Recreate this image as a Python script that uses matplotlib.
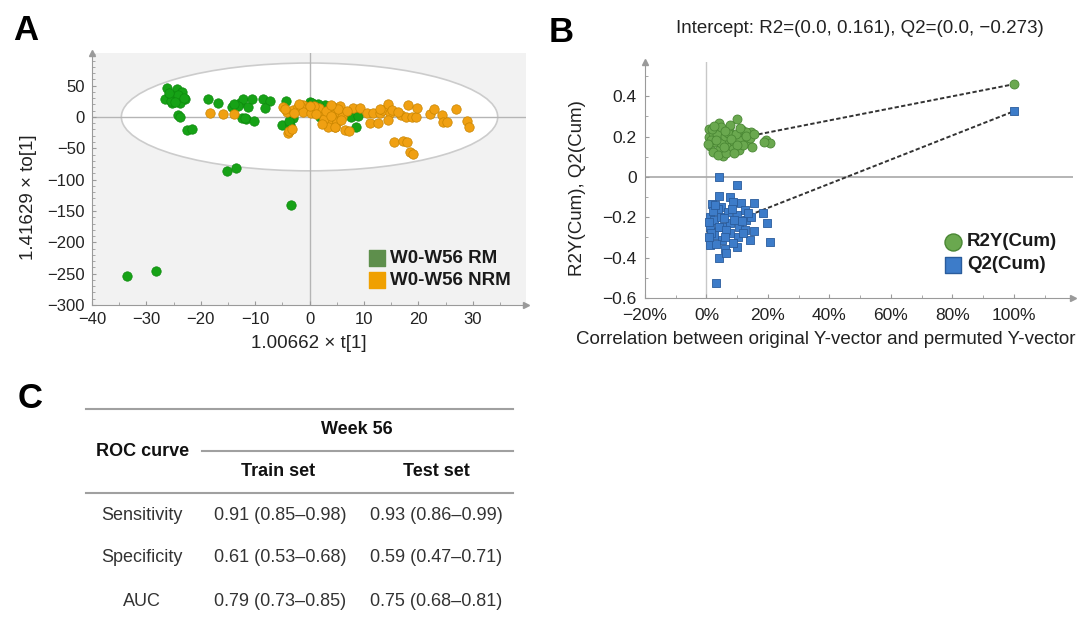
import matplotlib
matplotlib.use("Agg")
import matplotlib.pyplot as plt
from matplotlib.patches import Ellipse
from matplotlib.ticker import MultipleLocator, FuncFormatter, FixedLocator
import numpy as np

plt.rcParams['font.family'] = ['Liberation Sans', 'DejaVu Sans']
plt.rcParams['axes.unicode_minus'] = True

# ---------------- Panel A data (OPLS-DA score plot) ----------------
rm_x = [-26.2, -26.6, -24.3, -23.5, -25.1, -24.2, -22.9, -25.2, -23.8, -24.2, -23.8,
        -22.6, -21.7, -18.6, -16.8, -14.3, -12.8, -12.2, -11.3, -10.6, -12.5, -11.6,
        -10.2, -8.5, -7.2, -8.1, -5.0, -3.6, -3.0, 0.0, 0.4, 2.5, 2.8, 1.9, 3.6, 3.8,
        6.5, 7.7, 8.9, 8.5, -13.2, -11.8, -25.5, -24.8, -3.8, 4.6, 5.0, 1.5,
        -23.0, -25.8, -13.8, -4.4,
        -15.1, -13.6, -3.4, -33.6, -28.3]
rm_y = [45.7, 28, 44, 40, 33.5, 35, 28, 21.8, 21.8, 3.2, -0.5,
        -20.7, -19.6, 28, 22.9, 16.4, 21.8, 28, 16.4, 28, -2, -3.7,
        -5.9, 28, 26, 14.8, -12.8, -12.8, -2, 24.4, 22.8, 16.4, 19, 0.5, 12, -4,
        5.9, 0.5, 1.6, -15.5, 18, -1, 26, 24, -6, -2, 10, 20,
        31, 38, 20, 25,
        -87, -81, -140, -253, -245]

nrm_x = [-18.3, -15.9, -13.9, -4.9, -4.2, -3.9, -3.0, -2.2, -1.2, -0.6, 0.4,
         -1.5, -1.2, 0.7, 1.0, 3.4, 4.7, 4.3, 3.7, 5.6, 3.1, 4.3, 5.6, 5.0, 3.4,
         4.7, 6.5, 7.3, 8.0, 9.2, 10.5, 11.7, 12.9, 11.1, 12.6, 13.5, 14.4, 14.8,
         14.4, 15.1, 16.9, 17.8, 18.8, 19.5, 18.1, 19.7, 15.5, 17.2, 17.9, 18.4,
         19.0, 22.1, 22.8, 24.3, 24.6, 25.2, 27.0, 29.0, 29.3, -3.7, 2.0, 6.0,
         -2.8, 1.8, 5.2, 0.2, 2.6, -4.6, -2.0, 0.9, 3.0, 4.0, 5.8, 2.2, 1.2,
         6.8, 3.9, 13.0, 16.2, -3.3, 0.0]
nrm_y = [5.9, 4.3, 4.3, 16.4, 8.5, -25, 11.2, 16.4, 19, 11.2, 13.9,
         16.4, 8.5, 16.4, 11.2, -10, -15.5, 16.4, 11.2, 17.5, 3.2, 3.2, 5.9, -7.4, -15.5,
         -15.5, -20.7, -21.8, 13.9, 13.9, 5.9, 5.9, 5.9, -9.1, -9.1, 11.2, 20.2, 5.9,
         -4.8, 11.2, 3.2, 0.5, 0.5, 0.5, 19, 13.9, -39.4, -38.3, -39.4, -55.3,
         -59.5, 4.8, 12.3, 3.2, -7.4, -7.4, 12.3, -6.4, -15.5, -22, 8, 0,
         6, 14, 12, 7, -3, 12, 20, 18, 9, 19, -5, -12, 4,
         10, 1, 13, 8, -20, 18]

ellipse_semi_x = 34.6
ellipse_semi_y = 86.0

# ---------------- Panel B data (permutation test) ----------------
r2y_x = [0.76, 0.76, 1.2, 2.06, 2.9, 4.0, 4.0, 5.1, 5.3, 6.4, 7.3, 7.5, 8.4, 9.9,
         9.1, 10.5, 11.6, 12.4, 13.4, 14.5, 14.9, 19.2, 20.5, 3.4, 4.8, 5.9, 8.6,
         10.7, 12.9, 2.06, 3.7, 6.4, 11.8, 14.0, 1.5, 6.9, 9.7, 4.8, 7.5,
         0.5, 1.8, 3.0, 5.6, 8.0, 10.0, 13.0, 15.5, 2.5, 6.0, 9.0, 11.0, 18.6,
         100.0]
r2y_y = [0.236, 0.197, 0.154, 0.217, 0.175, 0.266, 0.134, 0.233, 0.104, 0.183,
         0.241, 0.147, 0.208, 0.286, 0.175, 0.134, 0.233, 0.200, 0.167, 0.225,
         0.147, 0.183, 0.167, 0.213, 0.167, 0.203, 0.137, 0.183, 0.225, 0.126,
         0.109, 0.120, 0.159, 0.192, 0.183, 0.220, 0.213, 0.249, 0.258,
         0.165, 0.240, 0.185, 0.150, 0.190, 0.160, 0.205, 0.215, 0.255, 0.230,
         0.120, 0.245, 0.175,
         0.460]
q2_x = [4.0, 9.9, 4.0, 1.84, 4.8, 7.5, 8.6, 11.3, 15.3, 18.5, 19.6, 20.7, 15.3,
        14.2, 9.9, 4.0, 3.1, 1.1, 1.1, 1.1, 2.5, 2.5, 4.8, 5.3, 5.1, 5.9, 6.9, 7.5,
        7.5, 9.9, 10.7, 10.1, 12.4, 12.9, 12.4, 14.5, 8.6, 6.4, 3.7, 1.5, 4.0, 6.4,
        0.8, 2.0, 3.2, 5.8, 8.2, 11.5, 13.5, 2.8, 6.0, 9.0, 11.8, 0.9,
        100.0]
q2_y = [-0.002, -0.040, -0.094, -0.134, -0.147, -0.098, -0.122, -0.130, -0.127,
        -0.177, -0.227, -0.321, -0.266, -0.312, -0.346, -0.403, -0.524, -0.197,
        -0.246, -0.337, -0.213, -0.288, -0.197, -0.246, -0.312, -0.358, -0.172,
        -0.230, -0.279, -0.188, -0.246, -0.296, -0.164, -0.213, -0.263, -0.197,
        -0.325, -0.378, -0.160, -0.279, -0.246, -0.263,
        -0.225, -0.170, -0.330, -0.205, -0.160, -0.220, -0.180, -0.140, -0.300,
        -0.215, -0.280, -0.300,
        0.326]
r2_intercept = 0.161
q2_intercept = -0.273

# ---------------- Panel C data (table) ----------------
row_labels = ['Sensitivity', 'Specificity', 'AUC']
train_set = ['0.91 (0.85–0.98)', '0.61 (0.53–0.68)', '0.79 (0.73–0.85)']
test_set = ['0.93 (0.86–0.99)', '0.59 (0.47–0.71)', '0.75 (0.68–0.81)']

W, H = 1079, 617
fig = plt.figure(figsize=(W / 100, H / 100), dpi=100)


def frac(left, top, right, bottom):
    return [left / W, 1 - bottom / H, (right - left) / W, (bottom - top) / H]


spine_c = '#9a9a9a'
tick_c = '#222222'

# ================= Panel A =================
axA = fig.add_axes(frac(92, 53, 526, 305))
axA.set_facecolor('#f2f2f2')
axA.set_xlim(-40, 39.8)
axA.set_ylim(-300, 102)
axA.add_patch(Ellipse((0, 0), 2 * ellipse_semi_x, 2 * ellipse_semi_y,
                      facecolor='white', edgecolor='#cccccc', lw=1.2, zorder=1))
axA.axhline(0, color='#b5b5b5', lw=1.0, zorder=1.5)
axA.axvline(0, color='#b5b5b5', lw=1.0, zorder=1.5)
axA.scatter(rm_x, rm_y, s=46, c='#16a216', edgecolors='#0e8a0e', linewidths=0.5, zorder=3)
axA.scatter(nrm_x, nrm_y, s=46, c='#f0a012', edgecolors='#c88500', linewidths=0.5, zorder=4)
for s in ['top', 'right']:
    axA.spines[s].set_visible(False)
for s in ['left', 'bottom']:
    axA.spines[s].set_color(spine_c)
axA.xaxis.set_major_locator(MultipleLocator(10))
axA.xaxis.set_minor_locator(MultipleLocator(5))
axA.yaxis.set_major_locator(FixedLocator(np.arange(-300, 51, 50)))
axA.yaxis.set_minor_locator(MultipleLocator(10))
axA.tick_params(which='both', direction='in', color=spine_c, labelsize=12, labelcolor=tick_c, pad=5)
axA.tick_params(which='major', length=3)
axA.tick_params(which='minor', length=2)
axA.plot([0], [1], marker='^', ms=5, color=spine_c, transform=axA.transAxes, clip_on=False)
axA.plot([1], [0], marker='>', ms=5, color=spine_c, transform=axA.transAxes, clip_on=False)
axA.set_xlabel('1.00662 × t[1]', fontsize=13.5, color=tick_c)
axA.xaxis.label.set_va('center')
axA.xaxis.set_label_coords(0.5, (305 - 343) / 252)
axA.set_ylabel('1.41629 × to[1]', fontsize=13.5, color=tick_c)
axA.yaxis.label.set_va('center')
axA.yaxis.set_label_coords((29 - 92) / 434, (305 - 197) / 252)
# legend A
leg_x = (376.6 - 92) / 434
axA.scatter([leg_x], [(305 - 258) / 252], marker='s', s=120, c='#5e8f4c', transform=axA.transAxes, zorder=5)
axA.scatter([leg_x], [(305 - 280) / 252], marker='s', s=120, c='#f0a000', transform=axA.transAxes, zorder=5)
axA.text((390 - 92) / 434, (305 - 258) / 252, 'W0-W56 RM', transform=axA.transAxes, fontsize=13.5,
         fontweight='bold', va='center', ha='left', color='#1a1a1a')
axA.text((390 - 92) / 434, (305 - 280) / 252, 'W0-W56 NRM', transform=axA.transAxes, fontsize=13.5,
         fontweight='bold', va='center', ha='left', color='#1a1a1a')

# ================= Panel B =================
axB = fig.add_axes(frac(645, 62, 1073, 298))
axB.set_xlim(-20, 119.2)
axB.set_ylim(-0.6, 0.57)
axB.axvline(0, color='#c8c8c8', lw=1.0, zorder=1)
axB.axhline(0, color='#a8a8a8', lw=1.2, zorder=1)
axB.plot([0, r2y_x[-1]], [r2_intercept, r2y_y[-1]], ls=(0, (2.2, 1.2)), color='#333333', lw=1.4, zorder=2)
axB.plot([0, q2_x[-1]], [q2_intercept, q2_y[-1]], ls=(0, (2.2, 1.2)), color='#333333', lw=1.4, zorder=2)
axB.scatter(r2y_x, r2y_y, s=42, marker='o', c='#6aa84f', edgecolors='#4a8734', linewidths=0.6, zorder=3)
axB.scatter(q2_x, q2_y, s=36, marker='s', c='#3d7cc9', edgecolors='#2a5c9c', linewidths=0.6, zorder=3)
for s in ['top', 'right']:
    axB.spines[s].set_visible(False)
for s in ['left', 'bottom']:
    axB.spines[s].set_color(spine_c)
axB.xaxis.set_major_locator(MultipleLocator(20))
axB.xaxis.set_minor_locator(MultipleLocator(10))
axB.yaxis.set_major_locator(MultipleLocator(0.2))
axB.yaxis.set_minor_locator(MultipleLocator(0.1))
axB.xaxis.set_major_formatter(FuncFormatter(lambda v, p: f"{v:.0f}%".replace('-', '−')))
axB.yaxis.set_major_formatter(FuncFormatter(
    lambda v, p: '0' if abs(v) < 1e-9 else f"{v:.1f}".replace('-', '−')))
axB.tick_params(which='both', direction='in', color=spine_c, labelsize=12.5, labelcolor=tick_c)
axB.tick_params(axis='x', pad=7)
axB.tick_params(axis='y', pad=6)
axB.tick_params(which='major', length=3)
axB.tick_params(which='minor', length=2)
axB.plot([0], [1], marker='^', ms=5, color=spine_c, transform=axB.transAxes, clip_on=False)
axB.plot([1], [0], marker='>', ms=5, color=spine_c, transform=axB.transAxes, clip_on=False)
axB.set_xlabel('Correlation between original Y-vector and permuted Y-vector', fontsize=13.5, color=tick_c)
axB.xaxis.label.set_va('center')
axB.xaxis.set_label_coords((826 - 645) / 428, (298 - 340) / 236)
axB.set_ylabel('R2Y(Cum), Q2(Cum)', fontsize=13.5, color=tick_c)
axB.yaxis.label.set_va('center')
axB.yaxis.set_label_coords((578 - 645) / 428, (298 - 188) / 236)
axB.set_title('Intercept: R2=(0.0, 0.161), Q2=(0.0, −0.273)', fontsize=13.5, color=tick_c,
              x=(860 - 645) / 428, y=(298 - 37) / 236, va='center')
lb_x = (953 - 645) / 428
axB.scatter([lb_x], [(298 - 241.7) / 236], marker='o', s=150, c='#6aa84f', edgecolors='#4a8734',
            transform=axB.transAxes, clip_on=False, zorder=5)
axB.scatter([lb_x], [(298 - 265) / 236], marker='s', s=130, c='#3d7cc9', edgecolors='#2a5c9c',
            transform=axB.transAxes, clip_on=False, zorder=5)
axB.text((967 - 645) / 428, (298 - 241.7) / 236, 'R2Y(Cum)', transform=axB.transAxes, fontsize=13.5,
         fontweight='bold', va='center', ha='left', color='#1a1a1a')
axB.text((967 - 645) / 428, (298 - 265) / 236, 'Q2(Cum)', transform=axB.transAxes, fontsize=13.5,
         fontweight='bold', va='center', ha='left', color='#1a1a1a')

# ================= Panel C (table) + panel letters =================
ov = fig.add_axes([0, 0, 1, 1], zorder=10)
ov.set_xlim(0, W)
ov.set_ylim(H, 0)
ov.axis('off')
ov.patch.set_alpha(0)

for lbl, (px, py) in zip(['A', 'B', 'C'], [(26, 31), (561, 33), (30, 398)]):
    ov.text(px, py, lbl, fontsize=25, fontweight='bold', ha='center', va='center', color='black')

line_c = '#a0a0a0'
ov.plot([86, 513], [409, 409], color=line_c, lw=1.5)
ov.plot([202, 513], [450.7, 450.7], color=line_c, lw=1.5)
ov.plot([86, 513], [492.7, 492.7], color=line_c, lw=1.5)
ov.text(357, 430, 'Week 56', fontsize=13, fontweight='bold', ha='center', va='center', color='#111111')
ov.text(143, 451, 'ROC curve', fontsize=13, fontweight='bold', ha='center', va='center', color='#111111')
ov.text(278, 472, 'Train set', fontsize=13, fontweight='bold', ha='center', va='center', color='#111111')
ov.text(436, 472, 'Test set', fontsize=13, fontweight='bold', ha='center', va='center', color='#111111')
row_y = [516, 558, 602]
for lab, tr, te, yy in zip(row_labels, train_set, test_set, row_y):
    ov.text(142, yy, lab, fontsize=13, ha='center', va='center', color='#333333')
    ov.text(280, yy, tr, fontsize=13, ha='center', va='center', color='#333333')
    ov.text(436, yy, te, fontsize=13, ha='center', va='center', color='#333333')

fig.savefig('out.png', dpi=100)
